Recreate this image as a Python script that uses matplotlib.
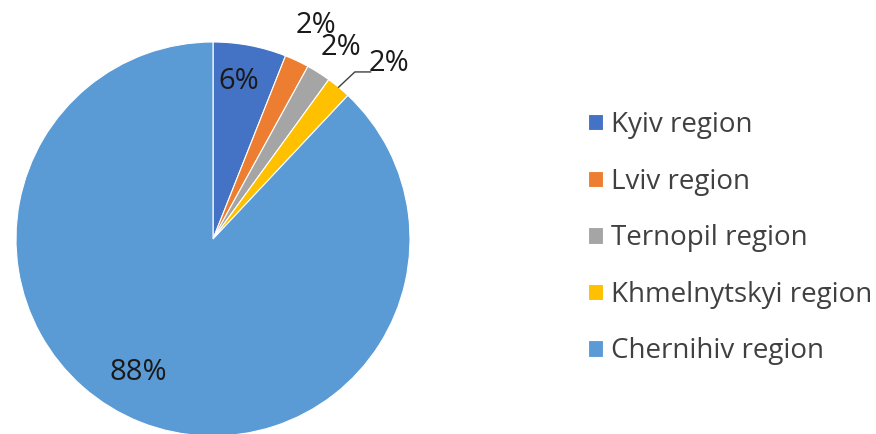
import matplotlib.pyplot as plt
import numpy as np

regions = ["Kyiv region", "Lviv region", "Ternopil region",
           "Khmelnytskyi region", "Chernihiv region"]
shares = [6, 2, 2, 2, 88]
colors = ["#4472C4", "#ED7D31", "#A5A5A5", "#FFC000", "#5B9BD5"]

plt.rcParams["font.family"] = ["Open Sans", "DejaVu Sans"]

W, H = 876, 434
fig = plt.figure(figsize=(W / 100, H / 100), dpi=100)

# pie centre (213, 239) px, radius 197 px
cx, cy, r = 213, 239, 197
ax = fig.add_axes([(cx - r) / W, (H - cy - r) / H, 2 * r / W, 2 * r / H])

wedges, _ = ax.pie(shares, colors=colors, startangle=90, counterclock=False,
                   radius=1, wedgeprops=dict(edgecolor="white", linewidth=0.8))
ax.set_xlim(-1, 1)
ax.set_ylim(-1, 1)
ax.set_aspect("equal")
ax.axis("off")

# data label positions (in pie units), Excel best-fit style
label_pos = [(0.13, 0.80), (0.525, 1.085), (0.65, 0.97), (0.893, 0.893), (-0.38, -0.68)]
for (x, y), val in zip(label_pos, shares):
    ax.text(x, y, f"{val}%", fontsize=21, color="#1a1a1a",
            ha="center", va="center", clip_on=False)

# leader line for the Khmelnytskyi label
mid = np.deg2rad((sum(shares[:3]) + shares[3] / 2) / sum(shares) * 360)
x0, y0 = np.sin(mid), np.cos(mid)
ax.plot([x0, 0.72, 0.80], [y0, 0.848, 0.848], color="#404040", lw=1,
        clip_on=False)

fig.legend(wedges, regions, loc="upper left",
           bbox_to_anchor=(588 / W, 1 - 111 / H), frameon=False,
           fontsize=20, handlelength=0.54, handleheight=0.54,
           handletextpad=0.29, labelspacing=1.03, borderpad=0,
           borderaxespad=0, labelcolor="#404040")

fig.savefig("out.png", dpi=100)
